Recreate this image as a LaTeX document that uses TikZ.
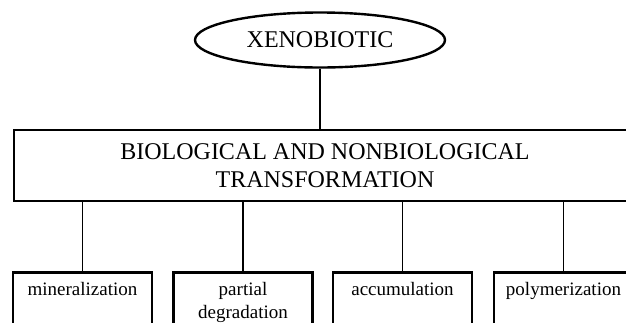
\documentclass[tikz,border=0pt]{standalone}
\usepackage{fontspec}
\setmainfont{Liberation Serif}
\usetikzlibrary{shapes.geometric}

\tikzset{
	source/.style={draw, ellipse, line width=2.4pt, inner sep=0pt,
		minimum width=250pt, minimum height=55pt,
		font=\fontsize{24}{28}\selectfont},
	process/.style={draw, rectangle, line width=2.6pt, align=center,
		minimum width=622pt, minimum height=71pt,
		font=\fontsize{24}{28}\selectfont},
	outcome/.style={draw, rectangle, line width=2.6pt, anchor=north,
		text width=125pt, inner xsep=7pt, inner ysep=10pt, align=center,
		text height=13pt, text depth=50pt,
		font=\fontsize{19}{23}\selectfont},
	link/.style={line width=1.1pt}
}

\begin{document}
\begin{tikzpicture}[x=1pt, y=-1pt]
	\clip (0,0) rectangle (626,322);

	\node[source] (xeno) at (320, 40) {XENOBIOTIC};

	\node[process] (transf) at (325, 165.5) {BIOLOGICAL AND NONBIOLOGICAL\\TRANSFORMATION};

	\node[outcome] (mineral) at (82.5, 271) {mineralization};
	\node[outcome] (partial) at (243, 271) {partial\\degradation};
	\node[outcome] (accum) at (402.5, 271) {accumulation};
	\node[outcome] (polymer) at (563.5, 271) {polymerization};

	\draw[link] (xeno.south) -- (xeno.south |- transf.north);
	\draw[link] (mineral.north) -- (mineral.north |- transf.south);
	\draw[link] (partial.north) -- (partial.north |- transf.south);
	\draw[link] (accum.north) -- (accum.north |- transf.south);
	\draw[link] (polymer.north) -- (polymer.north |- transf.south);
\end{tikzpicture}
\end{document}
